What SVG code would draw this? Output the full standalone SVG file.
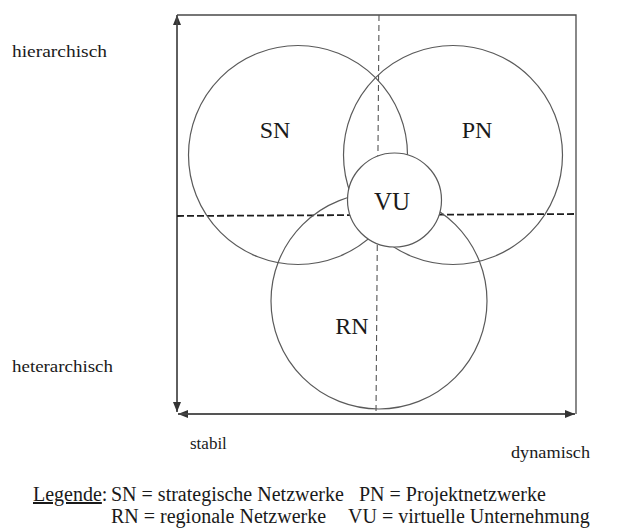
<svg xmlns="http://www.w3.org/2000/svg" width="629" height="528" viewBox="0 0 629 528">
  <style>
    text { font-family: "Liberation Serif", "Times New Roman", serif; fill: #1a1a1a; }
    .axis { stroke: #4a4a4a; stroke-width: 1.3; fill: none; }
    .ring { stroke: #5a5a5a; stroke-width: 1.2; fill: none; }
    .ring.solid { fill: #fff; }
    .dash-h { stroke: #1e1e1e; stroke-width: 1.8; stroke-dasharray: 7 3; fill: none; }
    .dash-v { stroke: #555; stroke-width: 1.1; stroke-dasharray: 6 4; fill: none; }
    .lbl { font-size: 24px; text-anchor: middle; }
    .side { font-size: 17px; }
    .legend { font-size: 20px; }
  </style>
  <defs>
    <marker id="tip" viewBox="0 0 10 8" refX="10" refY="4" markerWidth="10" markerHeight="8" markerUnits="userSpaceOnUse" orient="auto">
      <path d="M0,0 L10,4 L0,8 z" fill="#333"/>
    </marker>
  </defs>
  <rect width="629" height="528" fill="#fff"/>

  <!-- frame and axes -->
  <g id="connectors">
    <polyline class="axis" points="177,15 576,15 576,414"/>
    <line class="axis" x1="177" y1="412" x2="177" y2="15" marker-end="url(#tip)"/>
    <line class="axis" x1="177" y1="15" x2="177" y2="412" marker-end="url(#tip)"/>
    <line class="axis" x1="575" y1="414" x2="178" y2="414" marker-end="url(#tip)"/>
    <line class="axis" x1="178" y1="414" x2="575" y2="414" marker-end="url(#tip)"/>
    <line class="dash-v" x1="379" y1="15" x2="376" y2="414"/>
    <line class="dash-h" x1="177" y1="216" x2="576" y2="214"/>
  </g>

  <g id="SN">
    <circle class="ring" cx="298" cy="155" r="109.5"/>
    <text class="lbl" x="275" y="138">SN</text>
  </g>
  <g id="PN">
    <circle class="ring" cx="453" cy="155" r="109.5"/>
    <text class="lbl" x="477" y="138">PN</text>
  </g>
  <g id="RN">
    <circle class="ring" cx="379" cy="301" r="108"/>
    <text class="lbl" x="352" y="334">RN</text>
  </g>
  <g id="VU">
    <circle class="ring solid" cx="394.5" cy="200" r="47"/>
    <text class="lbl" x="392" y="210" style="font-size:25px">VU</text>
  </g>

  <!-- axis captions -->
  <g id="captions">
    <text class="side" x="12" y="57" textLength="95" lengthAdjust="spacingAndGlyphs">hierarchisch</text>
    <text class="side" x="12" y="372" textLength="101" lengthAdjust="spacingAndGlyphs">heterarchisch</text>
    <text class="side" x="190" y="449">stabil</text>
    <text class="side" x="511" y="458" textLength="79" lengthAdjust="spacingAndGlyphs">dynamisch</text>
  </g>

  <!-- legend -->
  <g id="legend">
    <text class="legend" x="33" y="501"><tspan text-decoration="underline">Legende</tspan>:</text>
    <text class="legend" x="111" y="501">SN = strategische Netzwerke</text>
    <text class="legend" x="359" y="501">PN = Projektnetzwerke</text>
    <text class="legend" x="111" y="523">RN = regionale Netzwerke</text>
    <text class="legend" x="348" y="523">VU = virtuelle Unternehmung</text>
  </g>
</svg>
